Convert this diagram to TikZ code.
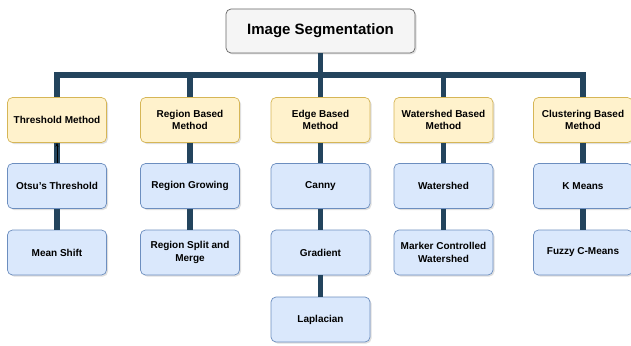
\documentclass[tikz,border=0pt]{standalone}
\usepackage{fontspec}
\setmainfont{Liberation Sans}
\usetikzlibrary{arrows.meta,shadows}

\definecolor{linkblue}{HTML}{23445D}
\definecolor{rootfill}{HTML}{F5F5F5}
\definecolor{rootline}{HTML}{666666}
\definecolor{headfill}{HTML}{FFF2CC}
\definecolor{headline}{HTML}{D6B656}
\definecolor{leaffill}{HTML}{DAE8FC}
\definecolor{leafline}{HTML}{6C8EBF}

\begin{document}
\begin{tikzpicture}[x=1pt,y=-1pt,font=\bfseries,
  box/.style={rounded corners=5pt,draw,line width=0.7pt,align=center,
    minimum width=99pt,minimum height=45pt,inner sep=2pt,
    drop shadow={opacity=0.25,shadow xshift=1.5pt,shadow yshift=-1.5pt}},
  root node/.style={box,fill=rootfill,draw=rootline,minimum width=189pt,minimum height=44pt,font=\bfseries\fontsize{15}{17}\selectfont},
  head node/.style={box,fill=headfill,draw=headline,font=\bfseries\fontsize{10}{12.5}\selectfont},
  leaf node/.style={box,fill=leaffill,draw=leafline,font=\bfseries\fontsize{10}{12.5}\selectfont},
  link/.style={draw=linkblue,line width=5.5pt}]

  \useasboundingbox (0,0) rectangle (631,345);

  \coordinate (bar) at (320.5,75);

  % root
  \node[root node] (seg) at (320.5,31) {Image Segmentation};

  % method row
  \node[head node] (thr) at (57,120)    {Threshold Method};
  \node[head node] (reg) at (190,120)   {Region Based\\Method};
  \node[head node] (edg) at (320.5,120) {Edge Based\\Method};
  \node[head node] (wat) at (443.5,120) {Watershed Based\\Method};
  \node[head node] (clu) at (583,120)   {Clustering Based\\Method};

  % techniques
  \node[leaf node] (otsu)   at (57,186)      {Otsu's Threshold};
  \node[leaf node] (mean)   at (57,252.5)    {Mean Shift};
  \node[leaf node] (grow)   at (190,186)     {Region Growing};
  \node[leaf node] (split)  at (190,252.5)   {Region Split and\\Merge};
  \node[leaf node] (canny)  at (320.5,186)   {Canny};
  \node[leaf node] (grad)   at (320.5,252.5) {Gradient};
  \node[leaf node] (lapl)   at (320.5,319.5) {Laplacian};
  \node[leaf node] (wshed)  at (443.5,186)   {Watershed};
  \node[leaf node] (marker) at (443.5,252.5) {Marker Controlled\\Watershed};
  \node[leaf node] (kmean)  at (583,186)     {K Means};
  \node[leaf node] (fuzzy)  at (583,252.5)   {Fuzzy C-Means};

  \draw[link] (seg) -- (bar);
  \draw[link] (bar) -| (thr);
  \draw[link] (bar) -| (reg);
  \draw[link] (bar) -- (edg);
  \draw[link] (bar) -| (wat);
  \draw[link] (bar) -| (clu);

  \path[link]
    (thr)   edge (otsu)
    (otsu)  edge (mean)
    (reg)   edge (grow)
    (grow)  edge (split)
    (edg)   edge (canny)
    (canny) edge (grad)
    (grad)  edge (lapl)
    (wat)   edge (wshed)
    (wshed) edge (marker)
    (clu)   edge (kmean)
    (kmean) edge (fuzzy);

  \draw[-{Stealth[length=4pt,width=3pt]},line width=0.6pt,black] (otsu) -- (thr);
\end{tikzpicture}
\end{document}
